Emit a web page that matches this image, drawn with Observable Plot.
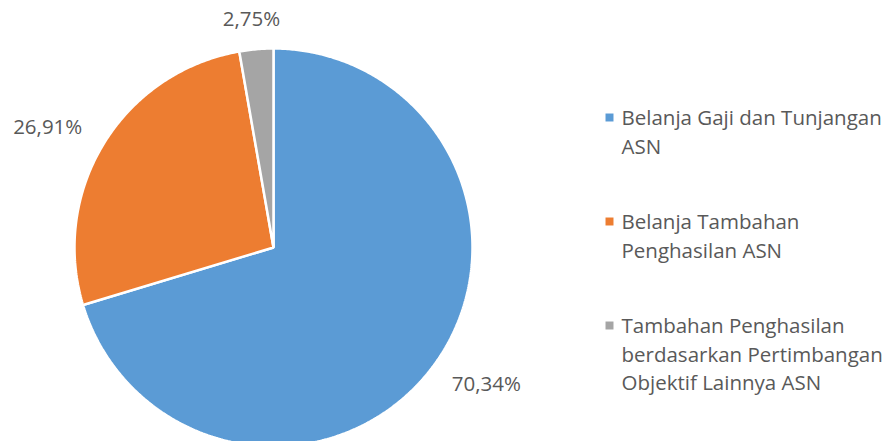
<!DOCTYPE html>
<html>
<head>
<meta charset="utf-8">
<script src="https://cdn.jsdelivr.net/npm/d3@7"></script>
<script src="https://cdn.jsdelivr.net/npm/@observablehq/plot@0.6"></script>
<style>
  html, body { margin: 0; padding: 0; background: #fff; }
  #chart { width: 888px; height: 441px; overflow: hidden; }
</style>
</head>
<body>
<div id="chart"></div>
<script>
// ---- data ----
const categories = [
  "Belanja Gaji dan Tunjangan ASN",
  "Belanja Tambahan Penghasilan ASN",
  "Tambahan Penghasilan berdasarkan Pertimbangan Objektif Lainnya ASN"
];
const shares = [70.34, 26.91, 2.75];
const valueLabels = ["70,34%", "26,91%", "2,75%"];
const legendLines = [
  ["Belanja Gaji dan Tunjangan", "ASN"],
  ["Belanja Tambahan", "Penghasilan ASN"],
  ["Tambahan Penghasilan", "berdasarkan Pertimbangan", "Objektif Lainnya ASN"]
];
const colors = ["#5B9BD5", "#ED7D31", "#A5A5A5"];

// ---- layout ----
const W = 888, H = 441;
const cx = 273, cy = 247, R = 199;
const font = "'Open Sans', Lato, sans-serif";
const textColor = "#595959";
const fontSize = 20.5;

// pie angles (clockwise from 12 o'clock)
const arcs = d3.pie().sort(null).value(d => d)(shares);

// slice polygons from pie angles
const slicePts = [];
arcs.forEach((a, i) => {
  const cat = categories[i];
  slicePts.push({cat, x: cx, y: cy});
  const n = Math.max(4, Math.ceil((a.endAngle - a.startAngle) / (Math.PI / 360)));
  for (let k = 0; k <= n; k++) {
    const t = a.startAngle + (a.endAngle - a.startAngle) * k / n;
    slicePts.push({cat, x: cx + R * Math.sin(t), y: cy - R * Math.cos(t)});
  }
});

// value labels outside the slices
const labelR = R + 14;
const labels = arcs.map((a, i) => {
  const m = (a.startAngle + a.endAngle) / 2;
  const ux = Math.sin(m), uy = -Math.cos(m);
  const w = valueLabels[i].length * fontSize * 0.85, h = fontSize * 1.6;
  return {
    text: valueLabels[i],
    x: cx + labelR * ux + ux * w / 2,
    y: cy + labelR * uy + uy * h / 2
  };
});

// legend rows
const legX = 609, legTextX = 621, legY0 = 118, lineH = 28.7, legGap = 46.6;
const legendRows = [];
const legendKeys = [];
let yy = legY0;
legendLines.forEach((lines, i) => {
  legendKeys.push({cat: categories[i], x: legX, y: yy - 1});
  lines.forEach((t, j) => legendRows.push({text: t, x: legTextX, y: yy + j * lineH}));
  yy += lines.length * lineH + legGap;
});

const chart = Plot.plot({
  width: W,
  height: H,
  margin: 0,
  x: {type: "identity", axis: null},
  y: {type: "identity", axis: null},
  color: {domain: categories, range: colors},
  style: {fontFamily: font, background: "#fff"},
  marks: [
    Plot.line(slicePts, {x: "x", y: "y", z: "cat", fill: "cat", stroke: "#fff", strokeWidth: 2.5, curve: "linear-closed", strokeLinejoin: "miter"}),
    Plot.text(labels, {x: "x", y: "y", text: "text", fontSize, fill: textColor, textAnchor: "middle"}),
    Plot.dot(legendKeys, {x: "x", y: "y", symbol: "square", r: 4.5, fill: "cat", stroke: null}),
    Plot.text(legendRows, {x: "x", y: "y", text: "text", fontSize, fill: textColor, textAnchor: "start"})
  ]
});
document.getElementById("chart").append(chart);
</script>
</body>
</html>
